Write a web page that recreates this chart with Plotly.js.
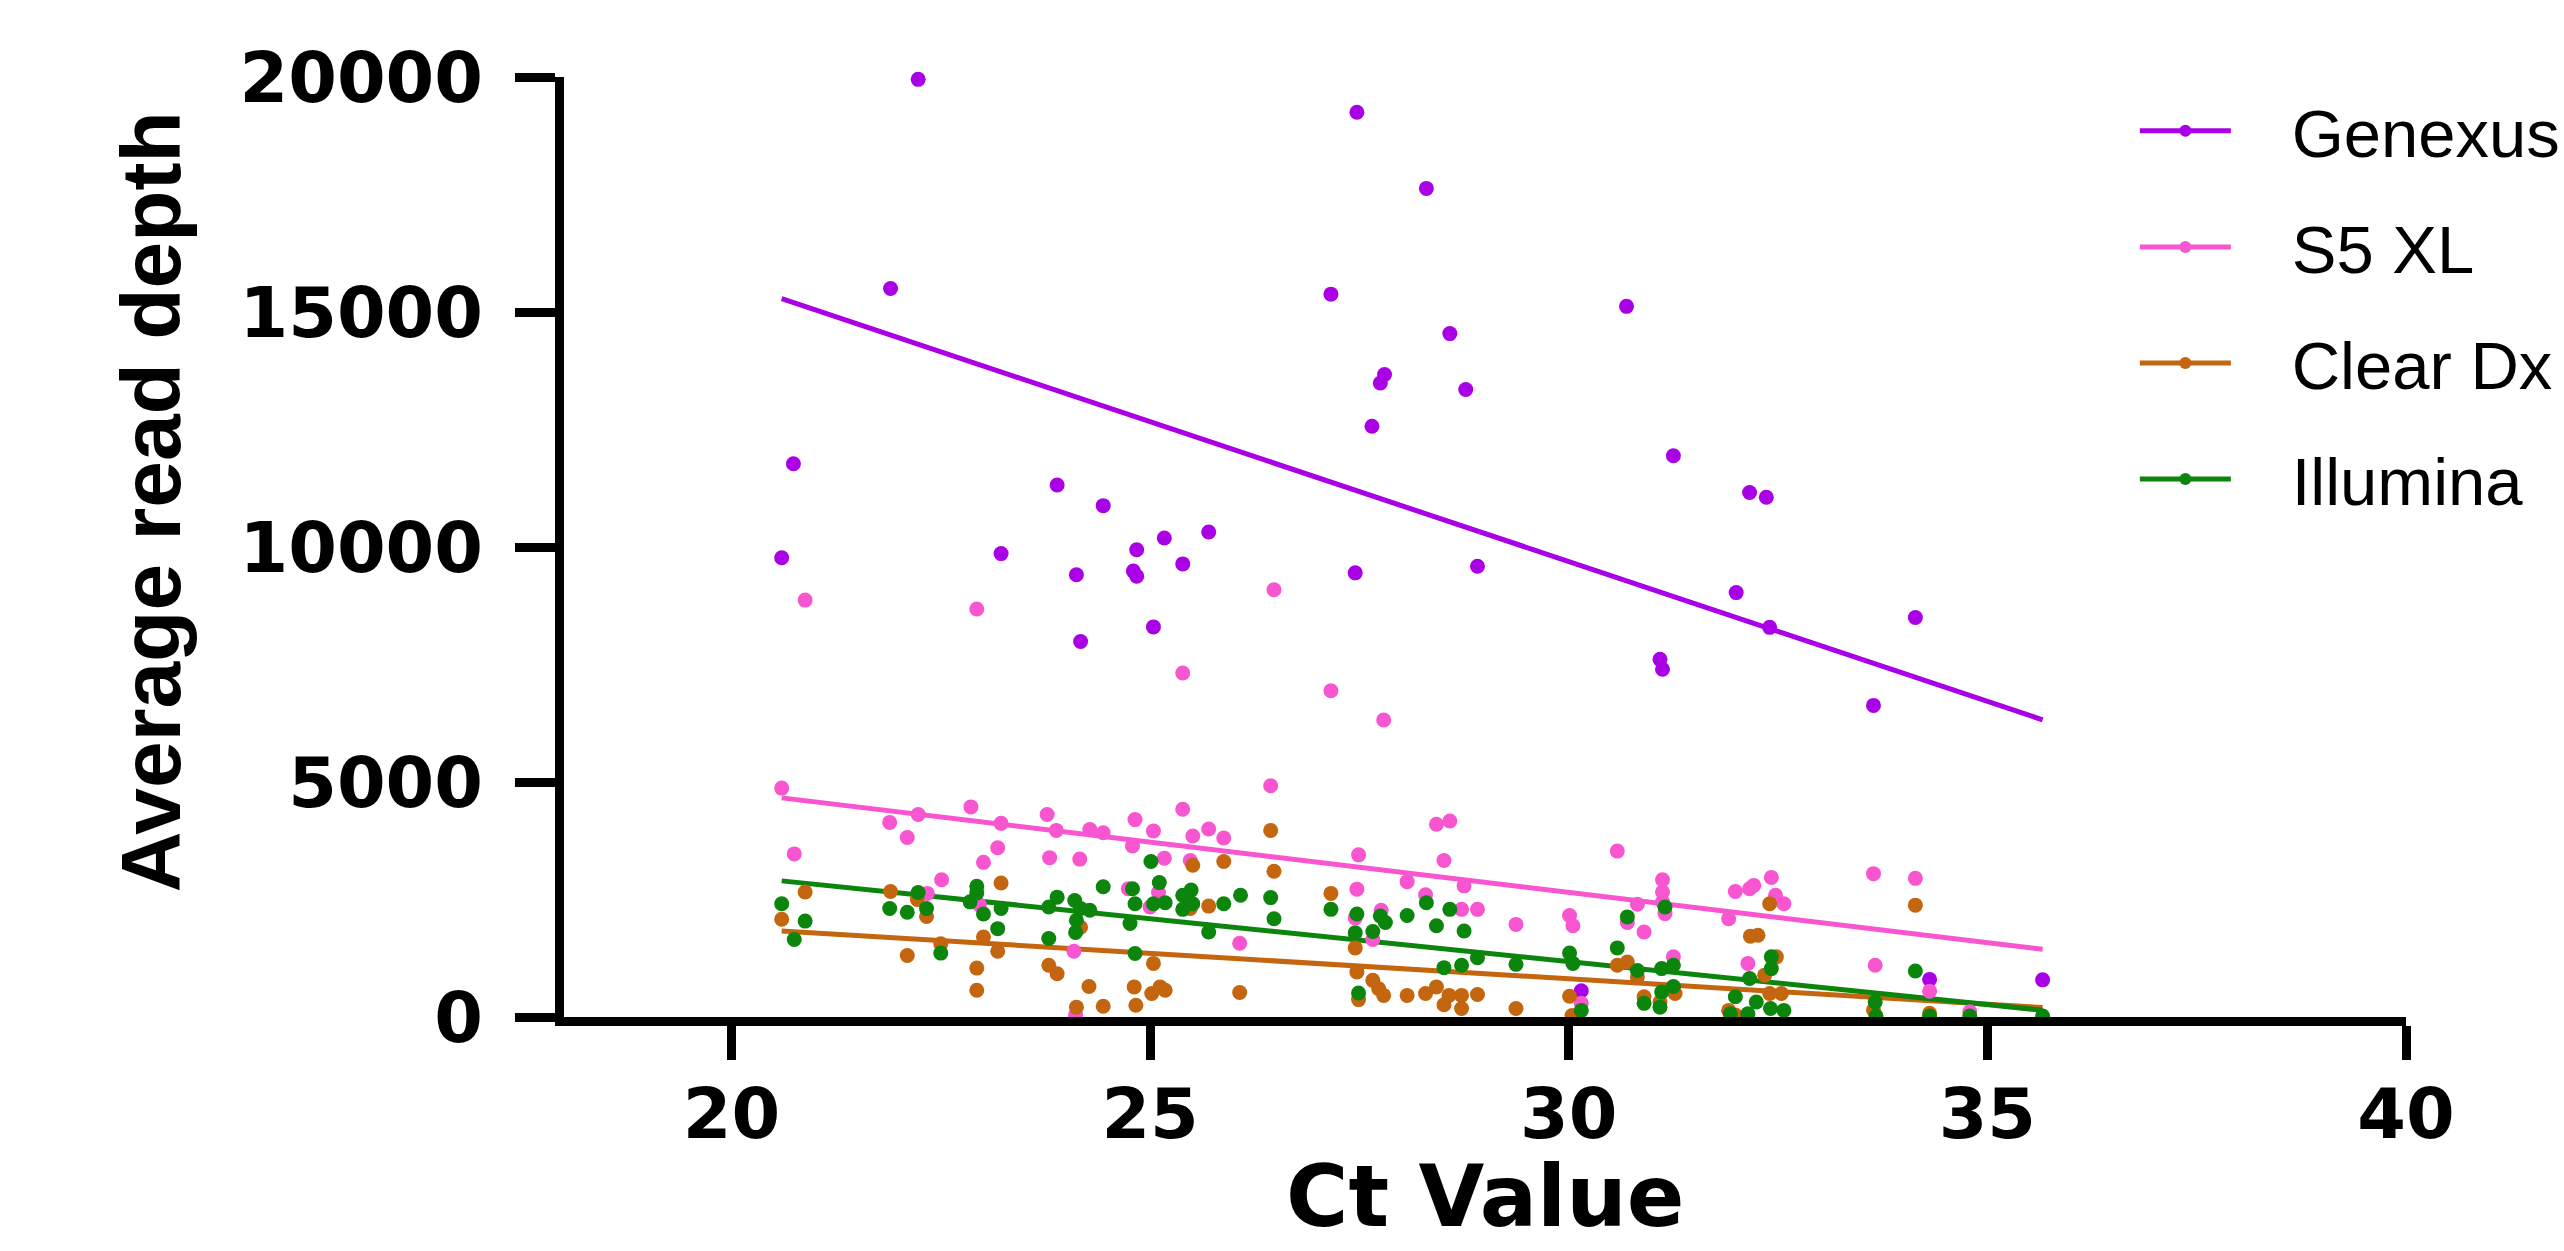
<!DOCTYPE html>
<html>
<head>
<meta charset="utf-8">
<script src="https://cdn.plot.ly/plotly-3.0.1.min.js"></script>
<style>
html,body{margin:0;padding:0;background:#ffffff;}
#chart{width:2564px;height:1251px;}
</style>
</head>
<body>
<div id="chart"></div>
<script>
// ---- Data ----
const seriesNames = ['Genexus', 'S5 XL', 'Clear Dx', 'Illumina'];
const seriesColors = ['#A900E6', '#F855D0', '#C4650F', '#0B850B'];

const genexusCt = [20.60,20.74,21.90,22.23,23.22,23.89,24.12,24.17,24.44,24.80,24.84,24.84,25.04,25.17,25.39,25.70,27.16,27.45,27.47,27.65,27.75,27.80,28.30,28.58,28.77,28.91,30.15,30.69,31.09,31.12,31.25,32.00,32.16,32.36,32.40,33.64,34.14,34.31,35.66];
const genexusDepth = [9770,11770,15500,19950,9860,11320,9410,7990,10880,9490,9380,9940,8300,10190,9640,10320,15380,9450,19250,12570,13490,13670,17630,14540,13350,9590,560,15120,7610,7400,11940,9030,11160,11060,8290,6630,8500,800,790];

const s5Ct = [20.60,20.75,20.88,21.89,22.10,22.23,22.34,22.51,22.86,22.93,22.96,23.01,23.18,23.22,23.77,23.80,23.88,24.09,24.11,24.16,24.28,24.44,24.74,24.79,24.82,25.00,25.04,25.10,25.17,25.39,25.39,25.48,25.51,25.70,25.88,26.07,26.44,26.48,27.16,27.45,27.47,27.49,27.66,27.76,27.79,28.07,28.29,28.42,28.51,28.58,28.72,28.75,28.91,29.37,30.01,30.05,30.15,30.58,30.70,30.82,30.90,31.12,31.12,31.12,31.15,31.25,31.91,31.99,32.14,32.16,32.21,32.42,32.47,32.57,33.64,33.66,34.14,34.31,34.79];
const s5Depth = [4870,3470,8870,4140,3820,4310,2630,2920,4470,8680,2390,3290,3600,4120,4310,3390,3970,1400,40,3360,3990,3920,2730,3640,4200,2340,3960,2650,3380,4420,7320,3330,3850,4000,3810,1570,4920,9090,6940,2110,2720,3450,1650,2270,6320,2880,2600,4100,3330,4170,2290,2790,2290,1970,2160,1940,290,3530,2010,2400,1810,2920,2660,2450,2200,1280,2090,2670,1140,2730,2800,2970,2590,2410,3050,1100,2950,550,110];

const clearDxCt = [20.60,20.88,21.90,22.10,22.22,22.33,22.50,22.93,22.93,23.01,23.18,23.22,23.79,23.89,24.12,24.17,24.27,24.44,24.81,24.83,25.02,25.04,25.12,25.18,25.48,25.51,25.70,25.88,26.07,26.44,26.48,27.16,27.45,27.47,27.49,27.66,27.73,27.79,28.07,28.29,28.42,28.51,28.57,28.72,28.72,28.91,29.37,30.01,30.04,30.58,30.70,30.82,30.90,31.09,31.27,31.91,31.99,32.17,32.26,32.34,32.40,32.40,32.48,32.54,33.64,34.14,34.31];
const clearDxDepth = [2080,2660,2670,1310,2500,2140,1560,1040,570,1700,1400,2850,1100,920,210,1910,650,230,640,250,500,1140,640,570,2310,3230,2360,3310,520,3970,3100,2630,1470,960,370,780,600,460,460,500,640,260,460,460,180,480,180,440,30,1100,1170,850,430,320,500,140,40,1720,1740,890,2410,500,1280,500,150,2380,80];

const illuminaCt = [20.60,20.75,20.88,21.89,22.10,22.23,22.33,22.50,22.85,22.93,22.93,23.01,23.18,23.22,23.79,23.79,23.89,24.10,24.11,24.12,24.17,24.28,24.44,24.76,24.79,24.82,24.82,25.01,25.04,25.11,25.18,25.39,25.39,25.49,25.51,25.70,25.88,26.08,26.44,26.48,27.16,27.45,27.47,27.49,27.66,27.75,27.81,28.07,28.30,28.42,28.51,28.58,28.72,28.75,28.91,29.37,30.01,30.05,30.15,30.58,30.70,30.82,30.90,31.09,31.11,31.11,31.15,31.25,31.25,31.93,31.99,32.14,32.16,32.24,32.41,32.42,32.42,32.57,33.66,33.67,34.14,34.31,34.79,35.66];
const illuminaDepth = [2410,1650,2040,2310,2230,2650,2310,1360,2450,2780,2640,2190,1880,2310,2340,1670,2550,2480,1800,2060,2310,2270,2770,1990,2730,2410,1350,3310,2410,2860,2430,2590,2290,2700,2410,1810,2410,2590,2540,2090,2290,1790,2190,510,1820,2150,2010,2160,2430,1940,1050,2290,1100,1830,1260,1120,1360,1140,140,1470,2130,990,290,210,1030,530,2340,1100,650,70,430,70,820,320,180,1280,1030,140,320,20,980,20,20,20];

// linear-regression parameters as shown by the reference's fit lines (depth = intercept + slope * Ct)
const fitSlope = [-595.0, -214.0, -108.3, -182.8];
const fitIntercept = [27541, 9071, 4062, 6662];

const xTickVals = [20, 25, 30, 35, 40];
const yTickVals = [0, 5000, 10000, 15000, 20000];
const xTitle = 'Ct Value';
const yTitle = 'Average read depth';

// ---- Build traces ----
const seriesX = [genexusCt, s5Ct, clearDxCt, illuminaCt];
const seriesY = [genexusDepth, s5Depth, clearDxDepth, illuminaDepth];

const allCt = [].concat(...seriesX);
const ctMin = Math.min(...allCt);
const ctMax = Math.max(...allCt);

const traces = [];
// regression lines first
seriesNames.forEach((name, i) => {
  const xs = [ctMin, ctMax];
  traces.push({
    type: 'scatter', mode: 'lines', name: name + ' fit', showlegend: false, hoverinfo: 'skip',
    x: xs, y: xs.map(v => fitIntercept[i] + fitSlope[i] * v),
    line: { color: seriesColors[i], width: 5 }, cliponaxis: false
  });
});
// points
seriesNames.forEach((name, i) => {
  traces.push({
    type: 'scatter', mode: 'markers', name: name, showlegend: false,
    x: seriesX[i], y: seriesY[i],
    marker: { color: seriesColors[i], size: 15, line: { width: 0 } },
    cliponaxis: false
  });
});
// legend entries (line with a dot)
const NB = '\u00a0\u00a0\u00a0';
seriesNames.forEach((name, i) => {
  traces.push({
    type: 'scatter', mode: 'lines+markers', name: NB + name, showlegend: true,
    legendgroup: 'g' + i,
    x: [null], y: [null],
    marker: { color: seriesColors[i], size: 12 },
    line: { color: seriesColors[i], width: 5 }
  });
});

const tickFont = { family: 'DejaVu Sans, Verdana, sans-serif', size: 70, color: '#000000', weight: 'bold' };

const layout = {
  width: 2564, height: 1251,
  paper_bgcolor: '#ffffff', plot_bgcolor: '#ffffff',
  margin: { l: 564, r: 158, t: 77, b: 234, pad: 0, autoexpand: false },
  showlegend: true,
  legend: {
    x: 0.8528, y: 0.996, xanchor: 'left', yanchor: 'top',
    font: { family: 'Liberation Sans, Arial, sans-serif', size: 67, color: '#000000' },
    itemwidth: 91, traceorder: 'grouped', tracegroupgap: 26,
    bgcolor: 'rgba(0,0,0,0)', borderwidth: 0
  },
  xaxis: {
    range: [18, 40], tickmode: 'array', tickvals: xTickVals,
    ticks: 'outside', ticklen: 34, tickwidth: 9, tickcolor: '#000000',
    showline: true, linewidth: 9, linecolor: '#000000',
    showgrid: false, zeroline: false,
    tickfont: tickFont, ticklabelstandoff: -6
  },
  yaxis: {
    range: [0, 20000], tickmode: 'array', tickvals: yTickVals, tickformat: 'd',
    ticks: 'outside', ticklen: 40, tickwidth: 9, tickcolor: '#000000',
    showline: true, linewidth: 9, linecolor: '#000000',
    showgrid: false, zeroline: false,
    tickfont: tickFont, ticklabelstandoff: 18
  },
  annotations: [
    {
      text: xTitle, xref: 'paper', yref: 'paper', x: 0.5, y: -0.191,
      xanchor: 'center', yanchor: 'middle', showarrow: false,
      font: { family: 'DejaVu Sans, Verdana, sans-serif', size: 85, color: '#000000', weight: 'bold' }
    },
    {
      text: yTitle, xref: 'paper', yref: 'paper', x: -0.2242, y: 0.5476, textangle: -90,
      xanchor: 'center', yanchor: 'middle', showarrow: false,
      font: { family: 'Liberation Sans, Arial, sans-serif', size: 84, color: '#000000', weight: 'bold' }
    }
  ]
};

Plotly.newPlot('chart', traces, layout, { displayModeBar: false, staticPlot: true });
</script>
</body>
</html>
